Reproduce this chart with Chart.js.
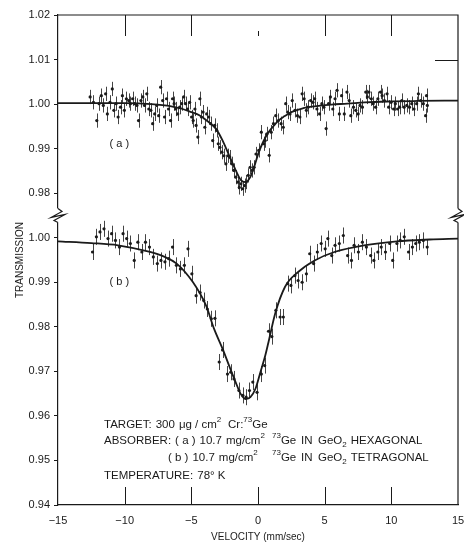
<!DOCTYPE html>
<html>
<head>
<meta charset="utf-8">
<script src="https://cdn.jsdelivr.net/npm/chart.js@4.4.1/dist/chart.umd.min.js"></script>
<style>
  html, body { margin: 0; padding: 0; background: #fff; }
  #wrap { width: 464px; height: 544px; }
</style>
</head>
<body>
<div id="wrap"><canvas id="spectrum" width="464" height="544"></canvas></div>
<script>
// (a) 10.7 mg/cm2 73Ge in GeO2, hexagonal -- velocity (mm/sec) and transmission
const velA = [
  -12.59, -12.34, -12.09, -11.92, -11.75, -11.60, -11.43, -11.30, -11.10, -10.93,
  -10.81, -10.64, -10.49, -10.31, -10.17, -10.02, -9.87, -9.70, -9.57, -9.40,
  -9.25, -9.08, -8.96, -8.78, -8.64, -8.51, -8.34, -8.19, -8.04, -7.90,
  -7.75, -7.60, -7.45, -7.30, -7.15, -7.01, -6.86, -6.71, -6.56, -6.41,
  -6.29, -6.17, -6.02, -5.87, -5.72, -5.57, -5.43, -5.28, -5.13, -4.98,
  -4.86, -4.73, -4.64, -4.51, -4.36, -4.24, -4.12, -3.99, -3.85, -3.70,
  -3.55, -3.40, -3.25, -3.10, -2.98, -2.86, -2.71, -2.56, -2.41, -2.27,
  -2.12, -1.97, -1.82, -1.67, -1.52, -1.40, -1.28, -1.15, -1.01, -0.88,
  -0.73, -0.59, -0.44, -0.29, -0.15, 0.05, 0.25, 0.42, 0.54, 0.67,
  0.84, 0.99, 1.16, 1.33, 1.53, 1.73, 1.90, 2.08, 2.22, 2.40,
  2.57, 2.77, 2.96, 3.14, 3.31, 3.46, 3.63, 3.75, 3.95, 4.12,
  4.25, 4.42, 4.62, 4.79, 4.94, 5.11, 5.29, 5.43, 5.61, 5.78,
  5.93, 6.10, 6.27, 6.47, 6.67, 6.84, 6.96, 7.16, 7.33, 7.51,
  7.65, 7.83, 8.08, 8.20, 8.32, 8.50, 8.64, 8.82, 8.99, 9.19,
  9.31, 9.48, 9.68, 9.80, 9.98, 10.17, 10.30, 10.47, 10.62, 10.79,
  10.96, 11.16, 11.36, 11.53, 11.70, 11.90, 12.03, 12.20, 12.40, 12.57,
  12.64, 12.70
];
const transA = [
  1.0016, 1.0004, 0.9963, 1.0001, 1.0019, 0.9997, 1.0023, 0.9978, 1.0004, 1.0034,
  0.9986, 1.0001, 0.9971, 0.9993, 1.0019, 0.9986, 1.0012, 1.0008, 1.0001, 1.0012,
  1.0001, 0.9997, 0.9963, 1.0008, 1.0016, 0.9997, 1.0023, 0.9989, 0.9986, 0.9956,
  0.9978, 0.9997, 0.9974, 1.0038, 1.0008, 0.9971, 1.0012, 0.9989, 0.9963, 1.0012,
  1.0001, 0.9989, 0.9978, 0.9993, 1.0001, 1.0016, 1.0001, 0.9989, 1.0004, 0.9971,
  0.9963, 0.9989, 0.9952, 0.9926, 1.0012, 0.9971, 0.9982, 0.9948, 0.9978, 0.9971,
  0.9956, 0.9918, 0.9952, 0.9941, 0.9911, 0.9903, 0.9892, 0.9884, 0.9866, 0.9884,
  0.9881, 0.9866, 0.9851, 0.9836, 0.9825, 0.9813, 0.9821, 0.9810, 0.9817, 0.9825,
  0.9840, 0.9858, 0.9851, 0.9858, 0.9888, 0.9896, 0.9937, 0.9911, 0.9918, 0.9933,
  0.9885, 0.9937, 0.9956, 0.9974, 0.9963, 0.9956, 0.9948, 1.0001, 0.9982, 0.9978,
  1.0008, 0.9986, 0.9974, 0.9971, 1.0023, 1.0012, 0.9986, 0.9993, 1.0008, 1.0004,
  1.0012, 0.9989, 0.9978, 1.0001, 0.9993, 0.9945, 1.0001, 1.0016, 0.9989, 1.0012,
  1.0031, 0.9978, 1.0019, 0.9978, 1.0027, 1.0008, 0.9974, 0.9993, 0.9986, 0.9978,
  0.9997, 0.9993, 1.0027, 1.0016, 1.0027, 1.0012, 1.0001, 0.9993, 1.0012, 1.0027,
  1.0019, 1.0008, 1.0023, 0.9993, 1.0004, 0.9989, 1.0001, 0.9989, 0.9993, 1.0008,
  0.9993, 0.9997, 0.9993, 1.0001, 0.9989, 1.0001, 1.0023, 1.0008, 1.0001, 0.9974,
  1.0019, 0.9997
];
const fitVelA = [-15, -12, -10, -8, -6.5, -5.65, -5, -4.4, -3.8, -3.16, -2.67, -2.17, -1.68, -1.3, -0.95, -0.6,
  -0.3, 0.05, 0.4, 0.79, 1.2, 1.53, 2.0, 2.5, 3.3, 4.25, 5.5, 6.7, 8, 10, 12, 15];
const fitA = [1.0002, 1.0002, 1.0002, 1.0000, 0.9995, 0.9989, 0.9982, 0.9975, 0.9962, 0.9945, 0.9919, 0.9885,
  0.9852, 0.9830, 0.9825, 0.9835, 0.9858, 0.9891, 0.9916, 0.9937, 0.9952, 0.9963, 0.9973, 0.9982, 0.9990,
  0.9995, 0.9999, 1.0001, 1.0004, 1.0006, 1.0007, 1.0008];

// (b) 10.7 mg/cm2 73Ge in GeO2, tetragonal
const velB = [
  -12.41, -12.12, -11.85, -11.55, -11.25, -10.98, -10.69, -10.39, -10.12, -9.85,
  -9.57, -9.28, -9.01, -8.71, -8.44, -8.14, -7.85, -7.55, -7.28, -6.98,
  -6.69, -6.41, -6.12, -5.82, -5.52, -5.25, -4.96, -4.64, -4.34, -4.07,
  -3.80, -3.50, -3.23, -2.91, -2.66, -2.29, -2.05, -1.80, -1.43, -1.13,
  -0.89, -0.64, -0.39, -0.07, 0.25, 0.50, 0.79, 1.04, 1.34, 1.66,
  1.90, 2.22, 2.47, 2.77, 3.01, 3.31, 3.63, 3.88, 4.17, 4.45,
  4.74, 5.04, 5.24, 5.53, 5.78, 6.10, 6.40, 6.72, 7.01, 7.21,
  7.53, 7.83, 8.13, 8.45, 8.69, 8.99, 9.24, 9.56, 9.88, 10.10,
  10.42, 10.67, 10.97, 11.29, 11.58, 11.83, 12.10, 12.40, 12.69
];
const transB = [
  0.9968, 1.0002, 1.0013, 1.0020, 0.9998, 1.0009, 0.9994, 0.9979, 1.0009, 0.9998,
  0.9987, 0.9949, 0.9990, 0.9968, 0.9990, 0.9979, 0.9957, 0.9942, 0.9949, 0.9946,
  0.9953, 0.9979, 0.9938, 0.9930, 0.9938, 0.9975, 0.9919, 0.9870, 0.9877, 0.9859,
  0.9840, 0.9818, 0.9819, 0.9721, 0.9748, 0.9694, 0.9698, 0.9683, 0.9657, 0.9646,
  0.9642, 0.9657, 0.9676, 0.9653, 0.9694, 0.9713, 0.9790, 0.9778, 0.9837, 0.9822,
  0.9822, 0.9897, 0.9893, 0.9915, 0.9904, 0.9900, 0.9919, 0.9964, 0.9942, 0.9968,
  0.9987, 0.9975, 0.9998, 0.9960, 0.9983, 0.9987, 1.0005, 0.9960, 0.9949, 0.9983,
  0.9968, 0.9990, 0.9979, 0.9960, 0.9949, 0.9968, 0.9979, 0.9968, 0.9987, 0.9949,
  0.9987, 0.9994, 1.0002, 0.9968, 0.9979, 0.9987, 0.9990, 0.9994, 0.9979
];
const fitVelB = [-15, -12.5, -10.5, -8.1, -7, -6.1, -4.9, -3.9, -3.3, -2.66, -2.17, -1.68, -1.31, -0.94,
  -0.57, -0.19, 0.18, 0.55, 0.79, 1.29, 2.03, 3.01, 4.25, 5.73, 7.95, 10.42, 12.89, 15];
const fitB = [0.9992, 0.9988, 0.9983, 0.9968, 0.9957, 0.9942, 0.9901, 0.9848, 0.9796, 0.9751, 0.9713, 0.9676,
  0.9650, 0.9638, 0.9642, 0.9661, 0.9698, 0.9736, 0.9766, 0.9830, 0.9890, 0.9923, 0.9949, 0.9968, 0.9983,
  0.9992, 0.9996, 0.9998];

const errA = 0.0016;
const errB = 0.0018;

const velTicks = [-15, -10, -5, 0, 5, 10, 15];
const ticksLower = [0.94, 0.95, 0.96, 0.97, 0.98, 0.99, 1.00];
const ticksUpper = [0.98, 0.99, 1.00, 1.01, 1.02];

// panel (a) is drawn on the same axis, lifted by SHIFT; the axis is broken at BREAK
const SHIFT = 0.03;
const BREAK = 1.005;
const INK = '#1a1a1a';
const FONT = '"Liberation Sans", Arial, sans-serif';

Chart.defaults.font.family = FONT;
Chart.defaults.color = INK;

const toPoints = (xs, ys, dy) => xs.map((x, i) => ({ x: x, y: ys[i] + dy }));

// text runs with super/subscripts; each run = [offset from x0, parts],
// a run never starts before the previous one has ended
function drawRuns(ctx, x0, y, runs) {
  let end = -Infinity;
  runs.forEach(function (run) {
    let x = Math.max(x0 + run[0], end + 4);
    run[1].forEach(function (p) {
      const t = p[0], kind = p[1] || 'n';
      ctx.font = (kind === 'n' ? 11.5 : 8) + 'px ' + FONT;
      const dy = kind === 'sup' ? -5 : (kind === 'sub' ? 4 : 0);
      ctx.fillText(t, x, y + dy);
      x += ctx.measureText(t).width;
    });
    end = x;
  });
}

const framePlugin = {
  id: 'frame',
  beforeDatasetsDraw(chart) {
    // error bars, behind the points
    const { ctx, scales: { x, y } } = chart;
    ctx.save();
    ctx.strokeStyle = '#444';
    ctx.lineWidth = 1;
    chart.data.datasets.forEach(ds => {
      if (!ds.err) return;
      ds.data.forEach(p => {
        const px = Math.round(x.getPixelForValue(p.x)) + 0.5;
        ctx.beginPath();
        ctx.moveTo(px, y.getPixelForValue(p.y - ds.err));
        ctx.lineTo(px, y.getPixelForValue(p.y + ds.err));
        ctx.stroke();
      });
    });
    ctx.restore();
  },
  afterDraw(chart) {
    const { ctx, chartArea: a, scales: { x, y } } = chart;
    ctx.save();
    ctx.strokeStyle = INK;
    ctx.lineWidth = 1.2;
    ctx.beginPath();
    ctx.moveTo(a.left, a.top);
    ctx.lineTo(a.right, a.top);
    ctx.lineTo(a.right, a.bottom);
    ctx.stroke();

    // inward ticks on top and bottom edges
    ctx.lineWidth = 1;
    velTicks.slice(1, -1).forEach(v => {
      const px = Math.round(x.getPixelForValue(v)) + 0.5;
      ctx.beginPath();
      if (v === 0) {
        ctx.moveTo(px, a.top + 16); ctx.lineTo(px, a.top + 21);
      } else {
        ctx.moveTo(px, a.top); ctx.lineTo(px, a.top + 21);
      }
      ctx.moveTo(px, a.bottom); ctx.lineTo(px, a.bottom - 18);
      ctx.stroke();
    });
    const yr = Math.round(y.getPixelForValue(1.01 + SHIFT)) + 0.5;
    ctx.beginPath();
    ctx.moveTo(a.right - 23, yr); ctx.lineTo(a.right, yr);
    ctx.stroke();

    // axis breaks
    const yb = y.getPixelForValue(BREAK);
    [a.left, a.right].forEach(ax => {
      ctx.fillStyle = '#fff';
      ctx.fillRect(ax - 2, yb - 7, 4, 14);
      ctx.strokeStyle = INK;
      ctx.lineWidth = 1.2;
      ctx.beginPath();
      ctx.moveTo(ax, yb - 7);
      ctx.lineTo(ax + 4, yb - 4);
      ctx.lineTo(ax - 7, yb + 2);
      ctx.lineTo(ax + 7, yb - 1);
      ctx.lineTo(ax - 4, yb + 5);
      ctx.lineTo(ax, yb + 7);
      ctx.stroke();
    });

    // panel labels
    ctx.fillStyle = INK;
    ctx.textBaseline = 'middle';
    ctx.textAlign = 'center';
    ctx.font = '11px ' + FONT;
    ctx.fillText('( a )', x.getPixelForValue(-10.4), y.getPixelForValue(0.9910 + SHIFT));
    ctx.fillText('( b )', x.getPixelForValue(-10.4), y.getPixelForValue(0.9900));

    // experiment notes
    ctx.textAlign = 'left';
    const x0 = x.getPixelForValue(-11.55);
    const y1 = y.getPixelForValue(0.9580), y2 = y.getPixelForValue(0.9544);
    const y3 = y.getPixelForValue(0.9506), y4 = y.getPixelForValue(0.9465);
    const tail = [[168, [['73', 'sup'], ['Ge']]], [197, [['IN']]], [214, [['GeO'], ['2', 'sub']]]];
    drawRuns(ctx, x0, y1, [[0, [['TARGET:']]], [48, [['300']]], [71, [['\u03bcg / cm'], ['2', 'sup']]],
      [124, [['Cr:'], ['73', 'sup'], ['Ge']]]]);
    drawRuns(ctx, x0, y2, [[0, [['ABSORBER:']]], [64, [['( a )']]], [84, [['10.7']]],
      [110, [['mg/cm'], ['2', 'sup']]]].concat(tail, [[246, [['HEXAGONAL']]]]));
    drawRuns(ctx, x0, y3, [[64, [['( b )']]], [84, [['10.7']]],
      [110, [['mg/cm'], ['2', 'sup']]]].concat(tail, [[246, [['TETRAGONAL']]]]));
    drawRuns(ctx, x0, y4, [[0, [['TEMPERATURE:']]], [84, [['78\u00b0 K']]]]);
    ctx.restore();
  }
};

const ctx = document.getElementById('spectrum');
new Chart(ctx, {
  type: 'scatter',
  data: {
    datasets: [
      { label: '(a) fit', data: toPoints(fitVelA, fitA, SHIFT), showLine: true, pointRadius: 0,
        borderColor: INK, borderWidth: 1.8, cubicInterpolationMode: 'monotone' },
      { label: '(b) fit', data: toPoints(fitVelB, fitB, 0), showLine: true, pointRadius: 0,
        borderColor: INK, borderWidth: 1.8, cubicInterpolationMode: 'monotone' },
      { label: '(a)', data: toPoints(velA, transA, SHIFT), err: errA, pointRadius: 1.6,
        pointBorderWidth: 0, backgroundColor: INK, borderColor: INK },
      { label: '(b)', data: toPoints(velB, transB, 0), err: errB, pointRadius: 1.6,
        pointBorderWidth: 0, backgroundColor: INK, borderColor: INK }
    ]
  },
  options: {
    responsive: false,
    animation: false,
    layout: { padding: { top: 15, right: 6, left: 0, bottom: 0 } },
    plugins: { legend: { display: false }, tooltip: { enabled: false } },
    scales: {
      x: {
        type: 'linear', min: -15, max: 15,
        afterBuildTicks: s => { s.ticks = velTicks.map(v => ({ value: v })); },
        afterFit: s => { s.height = 39; s.paddingRight = 0; s.paddingLeft = 0; },
        grid: { display: false, drawTicks: false },
        border: { color: INK, width: 1.2 },
        ticks: { padding: 9, font: { size: 11 }, autoSkip: false, maxRotation: 0,
          callback: v => v < 0 ? '\u2212' + Math.abs(v) : String(v) },
        title: { display: true, text: 'VELOCITY (mm/sec)', font: { size: 10 }, padding: { top: 0, bottom: 1 } }
      },
      y: {
        type: 'linear', min: 0.94, max: 1.05,
        afterBuildTicks: s => {
          s.ticks = ticksLower.concat(ticksUpper.map(v => v + SHIFT)).map(v => ({ value: v }));
        },
        afterFit: s => { s.width = 58; },
        grid: { drawOnChartArea: false, drawTicks: true, tickLength: 4, color: INK },
        border: { color: INK, width: 1.2 },
        ticks: { padding: 4, font: { size: 11 }, autoSkip: false,
          callback: v => (v > BREAK ? v - SHIFT : v).toFixed(2) },
        title: { display: true, text: 'TRANSMISSION', font: { size: 10 }, padding: { top: 14, bottom: 0 } }
      }
    }
  },
  plugins: [framePlugin]
});
</script>
</body>
</html>
